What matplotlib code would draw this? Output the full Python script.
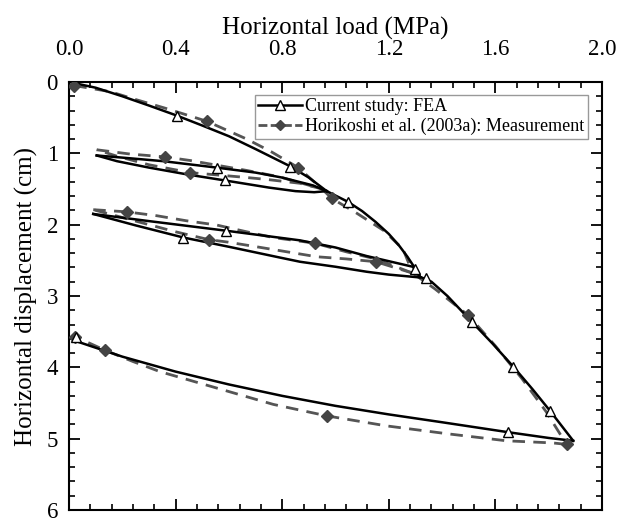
import matplotlib
matplotlib.use("Agg")
import matplotlib.pyplot as plt
from matplotlib.lines import Line2D
from matplotlib.ticker import MultipleLocator

plt.rcParams['font.family'] = ['Liberation Serif', 'DejaVu Serif']

# ---------------- FEA (current study) curve segments ----------------
fea_load1_x = [0.0, 0.1, 0.2, 0.3, 0.404, 0.5, 0.6, 0.7, 0.829, 0.9, 0.967]
fea_load1_y = [0.0, 0.08, 0.2, 0.33, 0.47, 0.61, 0.76, 0.94, 1.18, 1.34, 1.53]
fea_unload1_x = [0.967, 0.92, 0.85, 0.75, 0.585, 0.45, 0.30, 0.18, 0.104]
fea_unload1_y = [1.53, 1.545, 1.53, 1.48, 1.38, 1.30, 1.20, 1.11, 1.03]
fea_reload1_x = [0.104, 0.2, 0.354, 0.554, 0.70, 0.80, 0.916, 0.967]
fea_reload1_y = [1.03, 1.06, 1.11, 1.20, 1.27, 1.34, 1.45, 1.53]
fea_load2_x = [0.967, 1.047, 1.10, 1.15, 1.20, 1.24, 1.27, 1.30, 1.317]
fea_load2_y = [1.53, 1.68, 1.81, 1.96, 2.13, 2.30, 2.45, 2.62, 2.73]
fea_unload2_x = [1.317, 1.2, 1.117, 1.0, 0.867, 0.79, 0.6, 0.429, 0.25, 0.091]
fea_unload2_y = [2.74, 2.70, 2.66, 2.59, 2.52, 2.46, 2.31, 2.18, 2.01, 1.85]
fea_reload2_x = [0.091, 0.3, 0.59, 0.867, 1.0, 1.117, 1.29, 1.317]
fea_reload2_y = [1.85, 1.95, 2.085, 2.22, 2.32, 2.44, 2.59, 2.73]
fea_load3_x = [1.317, 1.36, 1.42, 1.511, 1.59, 1.667, 1.74, 1.805, 1.892]
fea_load3_y = [2.73, 2.80, 3.00, 3.36, 3.67, 3.99, 4.31, 4.61, 5.03]
fea_unload3_x = [1.892, 1.80, 1.649, 1.40, 1.2, 1.0, 0.8, 0.6, 0.4, 0.2, 0.016]
fea_unload3_y = [5.03, 4.99, 4.91, 4.77, 4.66, 4.54, 4.40, 4.24, 4.06, 3.85, 3.62]
# FEA marker points (triangles)
fea_mark_x = [0.404, 0.829, 0.554, 0.585, 1.047, 0.59, 0.429, 1.30, 1.34, 1.511, 1.667, 1.805, 1.649, 0.026]
fea_mark_y = [0.474, 1.19, 1.20, 1.38, 1.68, 2.085, 2.18, 2.62, 2.75, 3.36, 3.99, 4.61, 4.90, 3.57]

# ---------------- Measurement (Horikoshi et al. 2003a) ----------------
meas_load1_x = [0.02, 0.154, 0.254, 0.36, 0.517, 0.667, 0.76, 0.86, 0.95]
meas_load1_y = [0.05, 0.135, 0.25, 0.366, 0.55, 0.80, 0.98, 1.20, 1.50]
meas_unload1_x = [0.95, 0.867, 0.74, 0.64, 0.454, 0.30, 0.18, 0.104]
meas_unload1_y = [1.50, 1.42, 1.365, 1.33, 1.27, 1.16, 1.04, 0.95]
meas_reload1_x = [0.104, 0.229, 0.36, 0.454, 0.667, 0.79, 0.95]
meas_reload1_y = [0.95, 1.01, 1.05, 1.10, 1.24, 1.33, 1.50]
meas_load2_x = [0.95, 0.985, 1.08, 1.18, 1.253, 1.29]
meas_load2_y = [1.50, 1.63, 1.84, 2.08, 2.34, 2.68]
meas_unload2_x = [1.29, 1.152, 1.04, 0.93, 0.817, 0.704, 0.597, 0.525, 0.40, 0.25, 0.091]
meas_unload2_y = [2.68, 2.52, 2.48, 2.45, 2.38, 2.31, 2.245, 2.21, 2.10, 1.95, 1.79]
meas_reload2_x = [0.091, 0.216, 0.33, 0.44, 0.554, 0.667, 0.765, 0.923, 1.04, 1.15, 1.29]
meas_reload2_y = [1.79, 1.82, 1.875, 1.945, 2.005, 2.10, 2.18, 2.26, 2.38, 2.48, 2.68]
meas_load3_x = [1.29, 1.373, 1.498, 1.60, 1.70, 1.79, 1.867]
meas_load3_y = [2.68, 2.90, 3.27, 3.70, 4.16, 4.62, 5.08]
meas_unload3_x = [1.867, 1.816, 1.642, 1.417, 1.19, 0.967, 0.767, 0.554, 0.341, 0.241, 0.135, 0.023]
meas_unload3_y = [5.08, 5.06, 5.03, 4.93, 4.82, 4.68, 4.52, 4.29, 4.06, 3.92, 3.76, 3.57]
# measurement marker points (diamonds)
meas_mark_x = [0.02, 0.517, 0.86, 0.36, 0.454, 0.985, 0.216, 0.525, 0.923, 1.152, 1.498, 1.867, 0.967, 0.135, 0.023]
meas_mark_y = [0.05, 0.55, 1.20, 1.05, 1.27, 1.63, 1.82, 2.21, 2.26, 2.52, 3.27, 5.08, 4.68, 3.76, 3.57]

x_ticks = [0.0, 0.4, 0.8, 1.2, 1.6, 2.0]
x_ticklabels = ['0.0', '0.4', '0.8', '1.2', '1.6', '2.0']
y_ticks = [0, 1, 2, 3, 4, 5, 6]
labels = ['Current study: FEA', 'Horikoshi et al. (2003a): Measurement']

fea_color = 'black'
meas_color = '#555555'

fig = plt.figure(figsize=(6.19, 5.24), dpi=100)
ax = fig.add_axes([69/619, 1-510/524, (602-69)/619, (510-82)/524])

dash = (4.5, 3.0)
meas_segs = [(meas_load1_x, meas_load1_y), (meas_unload1_x, meas_unload1_y),
             (meas_reload1_x, meas_reload1_y), (meas_load2_x, meas_load2_y),
             (meas_unload2_x, meas_unload2_y), (meas_reload2_x, meas_reload2_y),
             (meas_load3_x, meas_load3_y), (meas_unload3_x, meas_unload3_y)]
for sx, sy in meas_segs:
    ax.plot(sx, sy, color=meas_color, lw=2.0, dashes=dash, zorder=2)
ax.plot(meas_mark_x, meas_mark_y, 'D', color='#444444', ms=6, ls='none', zorder=4)

fea_segs = [(fea_load1_x, fea_load1_y), (fea_unload1_x, fea_unload1_y),
            (fea_reload1_x, fea_reload1_y), (fea_load2_x, fea_load2_y),
            (fea_unload2_x, fea_unload2_y), (fea_reload2_x, fea_reload2_y),
            (fea_load3_x, fea_load3_y), (fea_unload3_x, fea_unload3_y)]
for sx, sy in fea_segs:
    ax.plot(sx, sy, color=fea_color, lw=1.8, zorder=3)
ax.plot(fea_mark_x, fea_mark_y, '^', mfc='white', mec='black', mew=1.0, ms=6.5, ls='none', zorder=5)

ax.set_xlim(0, 2.0)
ax.set_ylim(6, 0)
ax.xaxis.set_ticks_position('both')
ax.xaxis.set_label_position('top')
ax.yaxis.set_ticks_position('both')
ax.set_xticks(x_ticks)
ax.set_xticklabels(x_ticklabels)
ax.set_yticks(y_ticks)
ax.xaxis.set_minor_locator(MultipleLocator(0.08))
ax.yaxis.set_minor_locator(MultipleLocator(0.2))
ax.tick_params(axis='x', which='both', direction='in', top=True, bottom=True,
               labeltop=True, labelbottom=False)
ax.tick_params(axis='y', which='both', direction='in', left=True, right=True,
               labelleft=True, labelright=False)
ax.tick_params(which='major', length=8, width=1.3, labelsize=16.5)
ax.tick_params(which='minor', length=4.5, width=1.2)
ax.tick_params(axis='x', which='major', pad=16)
ax.tick_params(axis='y', which='major', pad=8)
for sp in ax.spines.values():
    sp.set_linewidth(1.5)

ax.set_xlabel('Horizontal load (MPa)', fontsize=18, labelpad=3)
ax.set_ylabel('Horizontal displacement (cm)', fontsize=18, labelpad=6)

h1 = Line2D([], [], color=fea_color, lw=1.8, marker='^', mfc='white', mec='black', ms=6.5)
h2 = Line2D([], [], color=meas_color, lw=2.0, dashes=(3.2, 1.2), marker='D',
            mfc='#444444', mec='#444444', ms=5.5)
leg = ax.legend([h1, h2], labels, loc='upper right', bbox_to_anchor=(0.974, 0.970),
                borderaxespad=0, fontsize=13, frameon=True, fancybox=False,
                edgecolor='#999999', framealpha=1, handlelength=2.4,
                handletextpad=0.2, borderpad=0.2, labelspacing=0.15)
leg.get_frame().set_linewidth(1.0)

fig.savefig('out.png', dpi=100)
